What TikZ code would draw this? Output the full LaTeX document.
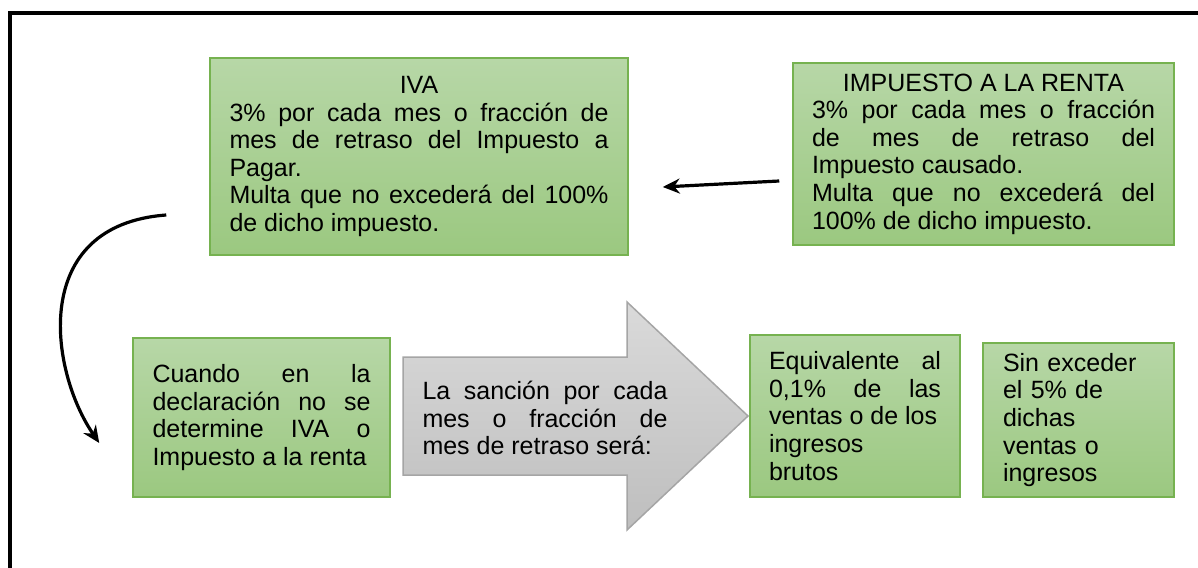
\documentclass[tikz,border=0pt]{standalone}
\usepackage{fontspec}
\setmainfont{Liberation Sans}
\usetikzlibrary{arrows.meta}
\definecolor{boxtop}{RGB}{183,215,167}
\definecolor{boxbottom}{RGB}{155,200,128}
\definecolor{boxline}{RGB}{118,178,80}
\definecolor{arrowtop}{RGB}{218,218,218}
\definecolor{arrowbottom}{RGB}{190,190,190}
\definecolor{arrowline}{RGB}{165,165,165}
\begin{document}
\begin{tikzpicture}[x = 1pt, y = -1pt,
        boxtext/.style = {font = \fontsize{25}{27.6}\selectfont, align = justify, inner sep = 0pt, execute at begin node = \parindent 0pt},
        greenbox/.style = {boxtext, draw = boxline, line width = 1.5, top color = boxtop, bottom color = boxbottom},
        link/.style = {line width = 3.2, -{Stealth[length = 17pt, width = 15pt]}}]
    \useasboundingbox (0, 0) rectangle (1198, 567);
    \draw [line width = 4] (10, 580) -- (10, 13) -- (1210, 13);
    \node [greenbox, minimum width = 418pt, minimum height = 197pt, text width = 379pt] (iva) at (419, 156.5) {{\centering IVA\par}3\% por cada mes o fracción de\linebreak mes de retraso del Impuesto a\linebreak Pagar.\par Multa que no excederá del 100\%\linebreak de dicho impuesto.};
    \node [greenbox, minimum width = 381pt, minimum height = 182pt, text width = 343pt] (renta) at (983.5, 154) {{\centering IMPUESTO A LA RENTA\par}3\% por cada mes o fracción\linebreak de mes de retraso del\linebreak Impuesto causado.\par Multa que no excederá del\linebreak 100\% de dicho impuesto.};
    \node [greenbox, minimum width = 257pt, minimum height = 159pt, text width = 218pt] (cuando) at (261.5, 417.5) {Cuando en la\linebreak declaración no se\linebreak determine IVA o\linebreak Impuesto a la renta};
    \shade [top color = arrowtop, bottom color = arrowbottom, draw = arrowline, line width = 1.5] (403, 357) -- (627, 357) -- (627, 302) -- (748, 416) -- (627, 530) -- (627, 475) -- (403, 475) -- cycle;
    \node [boxtext, text width = 245pt] (sancion) at (545, 418) {La sanción por cada\linebreak mes o fracción de\linebreak mes de retraso será:};
    \node [greenbox, minimum width = 210pt, minimum height = 162pt, text width = 172pt] (ventas) at (855, 416) {Equivalente al\linebreak 0,1\% de las\linebreak ventas o de los\newline ingresos\newline brutos};
    \node [greenbox, align = left, minimum width = 191pt, minimum height = 154pt, text width = 151pt] (tope) at (1078.5, 420) {Sin exceder\\el 5\% de\\dichas\\ventas o\\ingresos};
    % arrows
    \draw [link] ([xshift = -13pt, yshift = -27pt]renta.west) -- ([xshift = 34pt, yshift = -30.5pt]iva.east);
    \draw [link] ([xshift = -43pt, yshift = -58.5pt]iva.west) .. controls +(-137, 10) and +(-50, -73) .. ([xshift = -33pt, yshift = -25.5pt]cuando.west);
\end{tikzpicture}
\end{document}
